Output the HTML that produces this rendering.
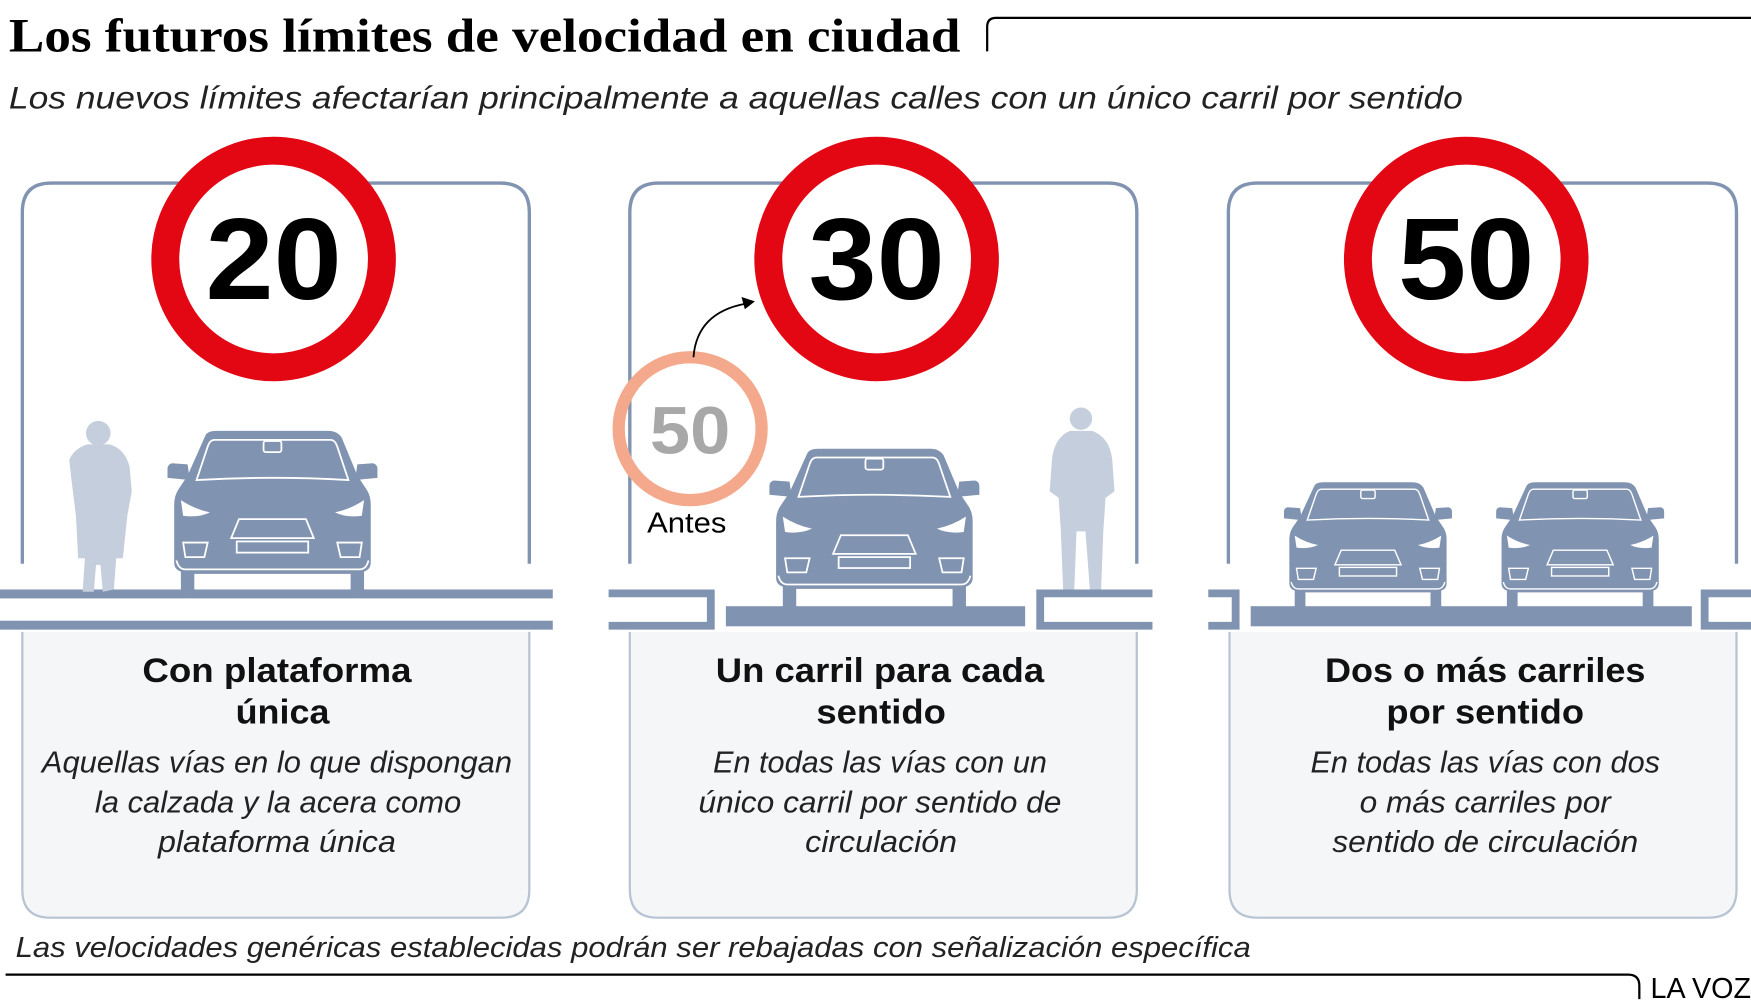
<!DOCTYPE html>
<html><head><meta charset="utf-8"><style>
html,body{margin:0;padding:0;background:#fff;}
svg{display:block;}
</style></head><body>
<svg width="1751" height="1007" viewBox="0 0 1568 902" preserveAspectRatio="none" xmlns="http://www.w3.org/2000/svg">
<defs>
<g id="car">
<path fill="#8093b0" d="M-60,4 Q-58,0 -50,0 L50,0 Q58,0 62,6 L76,40 L84,52 Q88,58 88,66 L88,118 Q88,124 82,126 L82,146 L70,146 L70,128 L-70,128 L-70,146 L-82,146 L-82,126 Q-88,124 -88,118 L-88,66 Q-88,58 -84,52 L-76,40 Z"/>
<path fill="#8093b0" d="M-76,30 L-90,29 Q-94,30 -94,34 L-94,42 L-74,44 Z M76,30 L90,29 Q94,30 94,34 L94,42 L74,44 Z"/>
<g fill="none" stroke="#fff" stroke-width="1.6">
<path d="M-52,8 L52,8 Q56,8 58,14 L68,44 Q0,40 -68,44 L-58,14 Q-56,8 -52,8Z"/>
<rect x="-8" y="9" width="16" height="10" rx="2"/>
<path d="M-30,79 L30,79 L37,96 L-37,96 Z"/>
<rect x="-32" y="99" width="64" height="10"/>
<path d="M-80,100 L-58,100 L-61,113 L-78,113 Z M80,100 L58,100 L61,113 L78,113 Z"/>
<path d="M-86,116 Q-84,124 -78,124 L78,124 Q84,124 86,116"/>
</g>
<path fill="#fff" d="M-82,62 Q-70,70 -56,73 Q-66,78 -80,76 Z M82,62 Q70,70 56,73 Q66,78 80,76 Z"/>
</g>
</defs>

<text x="8" y="46" font-family="Liberation Serif, serif" font-weight="bold" font-size="43" textLength="852" lengthAdjust="spacingAndGlyphs">Los futuros límites de velocidad en ciudad</text>
<path d="M884,46 L884,24 Q884,16 892,16 L1568,16" fill="none" stroke="#000" stroke-width="2"/>
<text x="8" y="97" font-family="Liberation Sans, sans-serif" font-style="italic" font-size="28" textLength="1302" lengthAdjust="spacingAndGlyphs" fill="#222">Los nuevos límites afectarían principalmente a aquellas calles con un único carril por sentido</text>

<g fill="none" stroke="#8093b0" stroke-width="3">
<path d="M20,505 L20,190 Q20,164 46,164 L448,164 Q474,164 474,190 L474,505"/>
<path d="M564,505 L564,190 Q564,164 590,164 L992,164 Q1018,164 1018,190 L1018,505"/>
<path d="M1100,505 L1100,190 Q1100,164 1126,164 L1529,164 Q1555,164 1555,190 L1555,505"/>
</g>
<g fill="#f4f6f8" stroke="#b8c3d3" stroke-width="2">
<path d="M20,566 L20,797 Q20,822 45,822 L449,822 Q474,822 474,797 L474,566"/>
<path d="M564,566 L564,797 Q564,822 589,822 L993,822 Q1018,822 1018,797 L1018,566"/>
<path d="M1101,566 L1101,797 Q1101,822 1126,822 L1530,822 Q1555,822 1555,797 L1555,566"/>
</g>

<g fill="#8093b0">
<rect x="0" y="528" width="495" height="8"/>
<rect x="0" y="556" width="495" height="8"/>
<path d="M545,528 L640,528 L640,564 L545,564 L545,557 L633,557 L633,535 L545,535 Z"/>
<rect x="650" y="543" width="268" height="18"/>
<path d="M1032,528 L928,528 L928,564 L1032,564 L1032,557 L935,557 L935,535 L1032,535 Z"/>
<path d="M1082,528 L1110,528 L1110,564 L1082,564 L1082,557 L1103,557 L1103,535 L1082,535 Z"/>
<rect x="1120" y="543" width="395" height="18"/>
<path d="M1568,528 L1523,528 L1523,564 L1568,564 L1568,557 L1530,557 L1530,535 L1568,535 Z"/>
</g>

<g fill="#c5cedc">
<circle cx="88" cy="388" r="11"/>
<path d="M78,398 L98,398 Q112,402 116,418 L118,440 L114,462 L110,500 L104,500 L102,528 L92,530 L90,506 L86,506 L84,530 L74,530 L76,500 L70,500 L68,462 L64,430 L62,412 Q66,402 78,398Z"/>
<circle cx="968" cy="375" r="10"/>
<path d="M958,386 L978,386 Q994,392 996,412 L998,440 L990,446 L988,476 L986,528 L976,528 L972,476 L964,476 L962,528 L952,528 L950,476 L948,446 L940,440 L942,412 Q944,392 958,386Z"/>
</g>

<use href="#car" transform="translate(244,386)"/>
<use href="#car" transform="translate(783,402) scale(1,0.98)"/>
<use href="#car" transform="translate(1225,432) scale(0.8,0.77)"/>
<use href="#car" transform="translate(1415,432) scale(0.8,0.77)"/>

<g font-family="Liberation Sans, sans-serif" font-weight="bold" text-anchor="middle">
<circle cx="245" cy="232" r="97" fill="#fff" stroke="#e30613" stroke-width="25"/>
<text x="245" y="268" font-size="104" textLength="122" lengthAdjust="spacingAndGlyphs">20</text>
<circle cx="785" cy="232" r="97" fill="#fff" stroke="#e30613" stroke-width="25"/>
<text x="785" y="268" font-size="104" textLength="122" lengthAdjust="spacingAndGlyphs">30</text>
<circle cx="1313" cy="232" r="97" fill="#fff" stroke="#e30613" stroke-width="25"/>
<text x="1313" y="268" font-size="104" textLength="122" lengthAdjust="spacingAndGlyphs">50</text>
<circle cx="618" cy="384" r="64" fill="none" stroke="#f4a98c" stroke-width="11"/>
<text x="618" y="406" font-size="60" fill="#a8a8a8" textLength="72" lengthAdjust="spacingAndGlyphs">50</text>
</g>
<text x="615" y="477" font-family="Liberation Sans, sans-serif" font-size="26" text-anchor="middle" textLength="71" lengthAdjust="spacingAndGlyphs">Antes</text>
<path d="M621,320 Q624,280 668,272" fill="none" stroke="#000" stroke-width="1.6"/>
<path d="M676,270 L664,266 L667,277 Z" fill="#000"/>

<g font-family="Liberation Sans, sans-serif" text-anchor="middle" fill="#111" lengthAdjust="spacingAndGlyphs">
<g font-weight="bold" font-size="31">
<text x="248" y="611" textLength="241" lengthAdjust="spacingAndGlyphs">Con plataforma</text>
<text x="253" y="648" textLength="84" lengthAdjust="spacingAndGlyphs">única</text>
<text x="788" y="611" textLength="294" lengthAdjust="spacingAndGlyphs">Un carril para cada</text>
<text x="789" y="648" textLength="116" lengthAdjust="spacingAndGlyphs">sentido</text>
<text x="1330" y="611" textLength="287" lengthAdjust="spacingAndGlyphs">Dos o más carriles</text>
<text x="1330" y="648" textLength="177" lengthAdjust="spacingAndGlyphs">por sentido</text>
</g>
<g font-style="italic" font-size="27" fill="#222">
<text x="248" y="692" textLength="421" lengthAdjust="spacingAndGlyphs">Aquellas vías en lo que dispongan</text>
<text x="249" y="728" textLength="328" lengthAdjust="spacingAndGlyphs">la calzada y la acera como</text>
<text x="248" y="763" textLength="213" lengthAdjust="spacingAndGlyphs">plataforma única</text>
<text x="788" y="692" textLength="299" lengthAdjust="spacingAndGlyphs">En todas las vías con un</text>
<text x="788" y="728" textLength="325" lengthAdjust="spacingAndGlyphs">único carril por sentido de</text>
<text x="789" y="763" textLength="136" lengthAdjust="spacingAndGlyphs">circulación</text>
<text x="1330" y="692" textLength="313" lengthAdjust="spacingAndGlyphs">En todas las vías con dos</text>
<text x="1330" y="728" textLength="225" lengthAdjust="spacingAndGlyphs">o más carriles por</text>
<text x="1330" y="763" textLength="274" lengthAdjust="spacingAndGlyphs">sentido de circulación</text>
</g>
</g>

<text x="14" y="857" font-family="Liberation Sans, sans-serif" font-style="italic" font-size="26" fill="#222" textLength="1106" lengthAdjust="spacingAndGlyphs">Las velocidades genéricas establecidas podrán ser rebajadas con señalización específica</text>
<path d="M5,873 L1458,873 Q1468,873 1468,883 L1468,895" fill="none" stroke="#000" stroke-width="2"/>
<text x="1478" y="894" font-family="Liberation Sans, sans-serif" font-size="26" fill="#000" textLength="90" lengthAdjust="spacingAndGlyphs">LA VOZ</text>
</svg>
</body></html>
